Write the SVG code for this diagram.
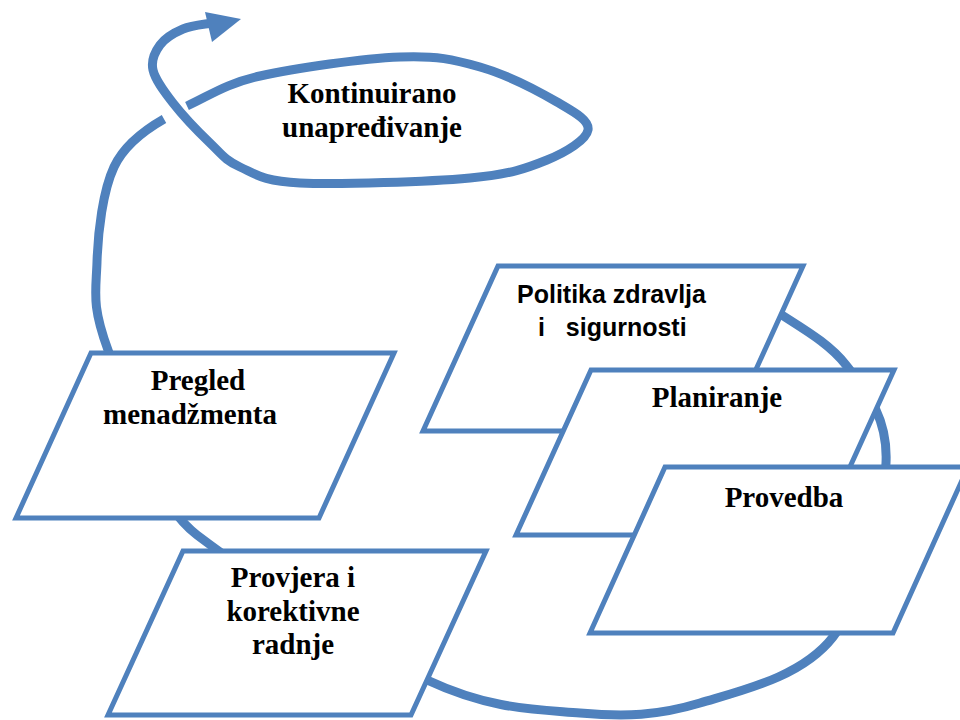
<svg xmlns="http://www.w3.org/2000/svg" width="960" height="720" viewBox="0 0 960 720">
  <style>
    .flow { fill: none; stroke: #4F81BD; stroke-width: 9; stroke-linecap: butt; stroke-linejoin: round; }
    .head { fill: #4F81BD; stroke: none; }
    .box { fill: #FFFFFF; stroke: #4F81BD; stroke-width: 5; stroke-linejoin: miter; }
    .serif { font-family: "Liberation Serif", "Times New Roman", serif; font-weight: bold; font-size: 29px; fill: #000000; text-anchor: middle; }
    .sans { font-family: "Liberation Sans", Arial, sans-serif; font-weight: bold; font-size: 25px; fill: #000000; }
  </style>
  <rect x="0" y="0" width="960" height="720" fill="#FFFFFF"/>
  <g id="connectors">
    <path id="cycle" class="flow" d="M 760 300 C 788.7 321.7, 825 337.8, 846 365 C 867 392.2, 888.2 417.7, 886 463 C 883.8 508.3, 864 597, 833 637 C 802 677, 742.2 690.3, 700 703 C 657.8 715.7, 625.5 716.8, 580 713 C 534.5 709.2, 490.8 709.7, 427 680 C 363.2 650.3, 247 573, 197 535 C 147 497, 124.7 395.5, 108 350 C 91.3 304.5, 96 292.5, 97 262 C 98 231.5, 102.8 191, 114 167 C 125.2 143, 150 127, 164 119"/>
    <path id="loop" class="flow" d="M 187 106 C 211 95, 224.5 84.2, 260 76 C 295.5 67.8, 363.3 58.5, 400 57 C 436.7 55.5, 453.8 59.5, 480 67 C 506.2 74.5, 539 91.5, 557 102 C 575 112.5, 589.7 120.3, 588 130 C 586.3 139.7, 566.7 152, 547 160 C 527.3 168, 511.2 174.2, 470 178 C 428.8 181.8, 338.3 184.8, 300 183 C 261.7 181.2, 255 173.7, 240 167 C 225 160.3, 221.2 153.7, 210 143 C 198.8 132.3, 182.5 115.2, 173 103 C 163.5 90.8, 155.2 79.7, 153 70 C 150.8 60.3, 155 51.8, 160 45 C 165 38.2, 174.3 32.7, 183 29 C 191.7 25.3, 203 24.5, 212 23"/>
    <polygon class="head" points="205,12 241,19 212,42"/>
  </g>
  <g id="node-kontinuirano">
    <text class="serif" x="372" y="103">Kontinuirano</text>
    <text class="serif" x="372" y="137">unapređivanje</text>
  </g>
  <g id="node-pregled">
    <polygon class="box" points="91,353 394,353 319,518 16,518"/>
    <text class="serif" x="198" y="390">Pregled</text>
    <text class="serif" x="190" y="424">menadžmenta</text>
  </g>
  <g id="node-provjera">
    <polygon class="box" points="183,551 486,551 411,715 108,715"/>
    <text class="serif" x="293" y="587">Provjera i</text>
    <text class="serif" x="293" y="621">korektivne</text>
    <text class="serif" x="293" y="654">radnje</text>
  </g>
  <g id="node-politika">
    <polygon class="box" points="498,266 803,266 728,431 423,431"/>
    <text class="sans" x="517" y="303">Politika zdravlja</text>
    <text class="sans" x="538" y="336" xml:space="preserve">i   sigurnosti</text>
  </g>
  <g id="node-planiranje">
    <polygon class="box" points="591,370 894,370 819,535 516,535"/>
    <text class="serif" x="717" y="407">Planiranje</text>
  </g>
  <g id="node-provedba">
    <polygon class="box" points="665,467 968,467 893,633 590,633"/>
    <text class="serif" x="784" y="507">Provedba</text>
  </g>
</svg>
